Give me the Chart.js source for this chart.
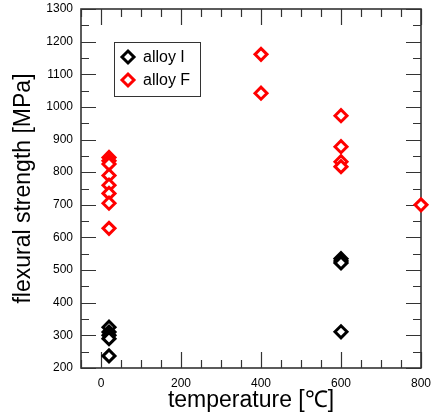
<!DOCTYPE html>
<html>
<head>
<meta charset="utf-8">
<script src="https://cdn.jsdelivr.net/npm/chart.js@4"></script>
<style>
  html, body { margin: 0; padding: 0; background: #fff; }
</style>
</head>
<body>
<canvas id="chart" width="433" height="419"></canvas>
<script>
// ── DATA ────────────────────────────────────────────────
const X_TICKS = [0, 200, 400, 600, 800];
const Y_TICKS = [200, 300, 400, 500, 600, 700, 800, 900, 1000, 1100, 1200, 1300];

const ALLOY_I_TEMP     = [20, 20, 20, 20, 20, 600, 600, 600, 600];
const ALLOY_I_STRENGTH = [325, 310, 300, 290, 237, 535, 528, 522, 311];

const ALLOY_F_TEMP     = [20, 20, 20, 20, 20, 20, 20, 20, 400, 400, 600, 600, 600, 600, 800];
const ALLOY_F_STRENGTH = [845, 835, 825, 790, 760, 735, 705, 628, 1161, 1042, 973, 878, 832, 817, 700];

const FONT = "'Liberation Sans', Arial, sans-serif";
const AXIS_COLOR = "#333";

const toPoints = (xs, ys) => xs.map((x, i) => ({ x, y: ys[i] }));

// scales should not add extra room for overflowing edge labels
function noEdgePadding(s) {
  s.paddingTop = s.paddingBottom = s.paddingLeft = s.paddingRight = 0;
}

// ── FRAME + INWARD TICKS + LEGEND ───────────────────────
const framePlugin = {
  id: "frame",
  beforeDatasetsDraw(chart) {
    const { ctx, chartArea: a, scales: { x, y } } = chart;
    ctx.save();
    ctx.strokeStyle = AXIS_COLOR;
    ctx.lineWidth = 1.6;
    ctx.strokeRect(a.left, a.top, a.right - a.left, a.bottom - a.top);

    ctx.lineWidth = 1.2;
    ctx.beginPath();
    for (let v = Math.ceil(x.min / 50) * 50; v <= x.max; v += 50) {
      const px = Math.round(x.getPixelForValue(v)) + 0.5;
      const len = X_TICKS.includes(v) ? 16 : 8;
      ctx.moveTo(px, a.bottom); ctx.lineTo(px, a.bottom - len);
      ctx.moveTo(px, a.top);    ctx.lineTo(px, a.top + len);
    }
    for (let v = y.min; v <= y.max; v += 50) {
      const py = Math.round(y.getPixelForValue(v)) + 0.5;
      const len = Y_TICKS.includes(v) ? 15 : 8;
      ctx.moveTo(a.left, py);  ctx.lineTo(a.left + len, py);
      ctx.moveTo(a.right, py); ctx.lineTo(a.right - len, py);
    }
    ctx.stroke();
    ctx.restore();
  },
  afterDraw(chart) {
    const { ctx } = chart;
    ctx.save();
    ctx.strokeStyle = AXIS_COLOR;
    ctx.lineWidth = 1;
    ctx.strokeRect(114.5, 42.5, 86, 54);
    ctx.font = `16px ${FONT}`;
    ctx.textBaseline = "middle";
    chart.data.datasets.forEach((ds, i) => {
      const cy = 57 + i * 23;
      ctx.fillStyle = "#fff";
      ctx.strokeStyle = ds.borderColor;
      ctx.lineWidth = 3;
      ctx.beginPath();
      ctx.moveTo(128, cy - 6); ctx.lineTo(134, cy); ctx.lineTo(128, cy + 6); ctx.lineTo(122, cy);
      ctx.closePath();
      ctx.fill(); ctx.stroke();
      ctx.fillStyle = "#000";
      ctx.fillText(ds.label, 143, cy + 1);
    });
    ctx.restore();
  }
};

// ── CHART ───────────────────────────────────────────────
new Chart(document.getElementById("chart"), {
  type: "scatter",
  data: {
    datasets: [
      {
        label: "alloy I",
        data: toPoints(ALLOY_I_TEMP, ALLOY_I_STRENGTH),
        pointStyle: "rectRot",
        pointRadius: 6,
        borderWidth: 3,
        borderColor: "#000",
        backgroundColor: "#fff",
        clip: false,
      },
      {
        label: "alloy F",
        data: toPoints(ALLOY_F_TEMP, ALLOY_F_STRENGTH),
        pointStyle: "rectRot",
        pointRadius: 6,
        borderWidth: 3,
        borderColor: "#f00",
        backgroundColor: "#fff",
        clip: false,
      },
    ],
  },
  options: {
    responsive: false,
    animation: false,
    layout: { padding: { top: 9, right: 12, left: 0, bottom: 0 } },
    plugins: {
      legend:  { display: false },
      tooltip: { enabled: false },
    },
    scales: {
      x: {
        type: "linear",
        min: -50,
        max: 800,
        afterBuildTicks: s => { s.ticks = X_TICKS.map(value => ({ value })); },
        afterFit: s => { s.height = 51; noEdgePadding(s); },
        grid:   { display: false, drawTicks: false },
        border: { display: false },
        ticks:  { color: "#000", font: { family: FONT, size: 12 }, padding: 8, maxRotation: 0,
                  callback: v => String(v) },
        title:  { display: true, text: "temperature [℃]", color: "#000",
                  font: { family: FONT, size: 23 }, padding: { top: 0, bottom: 5 } },
      },
      y: {
        type: "linear",
        min: 200,
        max: 1300,
        afterBuildTicks: s => { s.ticks = Y_TICKS.map(value => ({ value })); },
        afterFit: s => { s.width = 81; noEdgePadding(s); },
        grid:   { display: false, drawTicks: false },
        border: { display: false },
        ticks:  { color: "#000", font: { family: FONT, size: 12 }, padding: 8,
                  callback: v => String(v) },
        title:  { display: true, text: "flexural strength [MPa]", color: "#000",
                  font: { family: FONT, size: 23 }, padding: { top: 10, bottom: 0 } },
      },
    },
  },
  plugins: [framePlugin],
});
</script>
</body>
</html>
